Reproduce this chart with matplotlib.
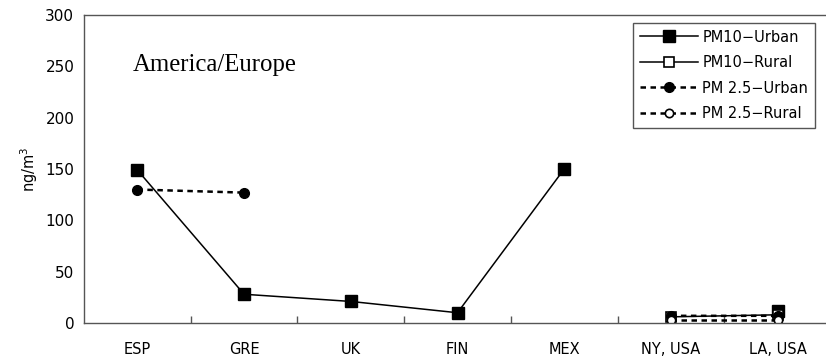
import numpy as np
import matplotlib
matplotlib.use("Agg")
import matplotlib.pyplot as plt

sites = ["ESP", "GRE", "UK", "FIN", "MEX", "NY, USA", "LA, USA"]
pm10_urban = [149, 28, 21, 10, 150, np.nan, 12]
pm10_rural = [np.nan, np.nan, np.nan, np.nan, np.nan, 6, 8]
pm25_urban = [130, 127, np.nan, np.nan, np.nan, 7, 7]
pm25_rural = [np.nan, np.nan, np.nan, np.nan, np.nan, 3, 3]


def main():
    plt.rcParams["font.family"] = ["DejaVu Sans"]
    fig = plt.figure(figsize=(8.26, 3.58), dpi=100)
    ax = fig.add_axes([84 / 826, 35 / 358, 747 / 826, 308 / 358])

    x = np.arange(len(sites))
    dots = (0, (2.2, 1.8))
    ax.plot(x, pm10_urban, color="black", lw=1.1, marker="s", ms=8,
            mfc="black", mec="black", label="PM10\u2212Urban")
    ax.plot(x, pm10_rural, color="black", lw=1.1, marker="s", ms=7,
            mfc="white", mec="black", mew=1.2, label="PM10\u2212Rural")
    ax.plot(x, pm25_urban, color="black", lw=1.8, ls=dots, marker="o", ms=7,
            mfc="black", mec="black", label="PM 2.5\u2212Urban")
    ax.plot(x, pm25_rural, color="black", lw=1.8, ls=dots, marker="o", ms=6,
            mfc="white", mec="black", mew=1.2, label="PM 2.5\u2212Rural")

    ax.set_xlim(-0.5, len(sites) - 0.5)
    ax.set_ylim(0, 300)
    ax.set_yticks(range(0, 301, 50))
    ax.set_xticks(x)
    ax.set_xticklabels(sites, fontsize=10.5)
    ax.set_xticks(np.arange(0.5, len(sites) - 1, 1), minor=True)
    ax.tick_params(axis="x", which="major", length=0, pad=14)
    ax.tick_params(axis="x", which="minor", length=5, direction="in",
                   color="#555555", width=1)
    ax.tick_params(axis="y", length=0, labelsize=11, pad=7)
    for s in ax.spines.values():
        s.set_color("#555555")
        s.set_linewidth(1.0)

    ax.set_ylabel("ng/m$^3$", fontsize=10.5, labelpad=4)
    fig.text(133 / 826, 1 - 65 / 358, "America/Europe", fontsize=17.8,
             family="Liberation Serif", va="center", ha="left")

    leg = ax.legend(loc="upper left", bbox_to_anchor=(633 / 826, 1 - 23 / 358),
                    bbox_transform=fig.transFigure, borderaxespad=0,
                    fancybox=False, framealpha=1, edgecolor="#555555",
                    fontsize=10.5, handlelength=4.0, handletextpad=0.3,
                    labelspacing=0.72, borderpad=0.45)
    leg.get_frame().set_linewidth(1.0)

    fig.savefig("out.png", dpi=100)


if __name__ == "__main__":
    main()
